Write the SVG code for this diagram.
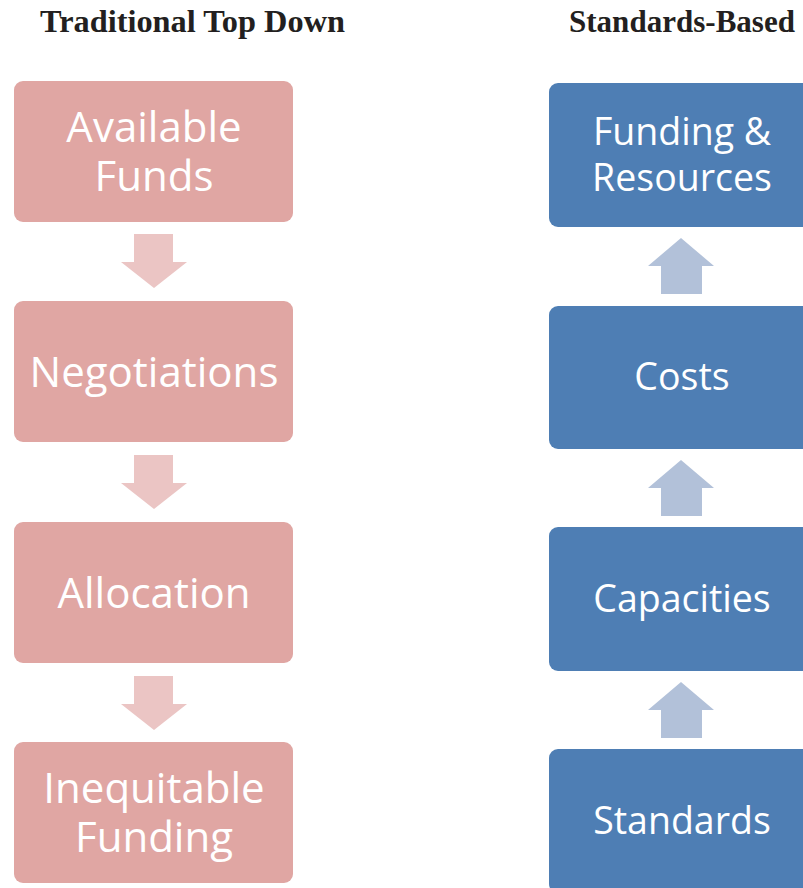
<svg xmlns="http://www.w3.org/2000/svg" width="803" height="888" viewBox="0 0 803 888">
<style>
.title{font-family:"Liberation Serif",serif;font-weight:bold;font-size:31px;fill:#231f20}
.pink{fill:#E0A6A3}
.blue{fill:#4E7EB4}
.parr{fill:#EBC5C4}
.barr{fill:#B2C1D9}
.lbl{font-family:"Open Sans",sans-serif;font-size:42px;fill:#ffffff;text-anchor:middle}
.bl{font-size:37.5px}
</style>
<rect width="803" height="888" fill="#ffffff"/>
<text class="title" x="40" y="32" textLength="305" lengthAdjust="spacingAndGlyphs">Traditional Top Down</text>
<text class="title" x="569" y="32" textLength="226" lengthAdjust="spacingAndGlyphs">Standards-Based</text>
<g id="connectors">
<polygon class="parr" points="134,234 173,234 173,262 187,262 154,288 121,262 134,262"/>
<polygon class="parr" points="134,455 173,455 173,483 187,483 154,509 121,483 134,483"/>
<polygon class="parr" points="134,676 173,676 173,704 187,704 154,730 121,704 134,704"/>
<polygon class="barr" points="681,238 714,266 702,266 702,294 661,294 661,266 648,266"/>
<polygon class="barr" points="681,460 714,488 702,488 702,516 661,516 661,488 648,488"/>
<polygon class="barr" points="681,682 714,710 702,710 702,738 661,738 661,710 648,710"/>
</g>
<g id="available-funds"><rect class="pink" x="14" y="81" width="279" height="141" rx="9"/><text class="lbl" x="154" y="142">Available</text><text class="lbl" x="154" y="191">Funds</text></g>
<g id="negotiations"><rect class="pink" x="14" y="301" width="279" height="141" rx="9"/><text class="lbl" x="154" y="387">Negotiations</text></g>
<g id="allocation"><rect class="pink" x="14" y="522" width="279" height="141" rx="9"/><text class="lbl" x="154" y="608">Allocation</text></g>
<g id="inequitable-funding"><rect class="pink" x="14" y="742" width="279" height="141" rx="9"/><text class="lbl" x="154" y="803">Inequitable</text><text class="lbl" x="154" y="852">Funding</text></g>
<g id="funding-resources"><rect class="blue" x="549" y="83" width="266" height="144" rx="9"/><text class="lbl bl" x="682" y="145">Funding &amp;</text><text class="lbl bl" x="682" y="191">Resources</text></g>
<g id="costs"><rect class="blue" x="549" y="306" width="266" height="143" rx="9"/><text class="lbl bl" x="682" y="390">Costs</text></g>
<g id="capacities"><rect class="blue" x="549" y="527" width="266" height="144" rx="9"/><text class="lbl bl" x="682" y="612">Capacities</text></g>
<g id="standards"><rect class="blue" x="549" y="749" width="266" height="144" rx="9"/><text class="lbl bl" x="682" y="834">Standards</text></g>
</svg>
